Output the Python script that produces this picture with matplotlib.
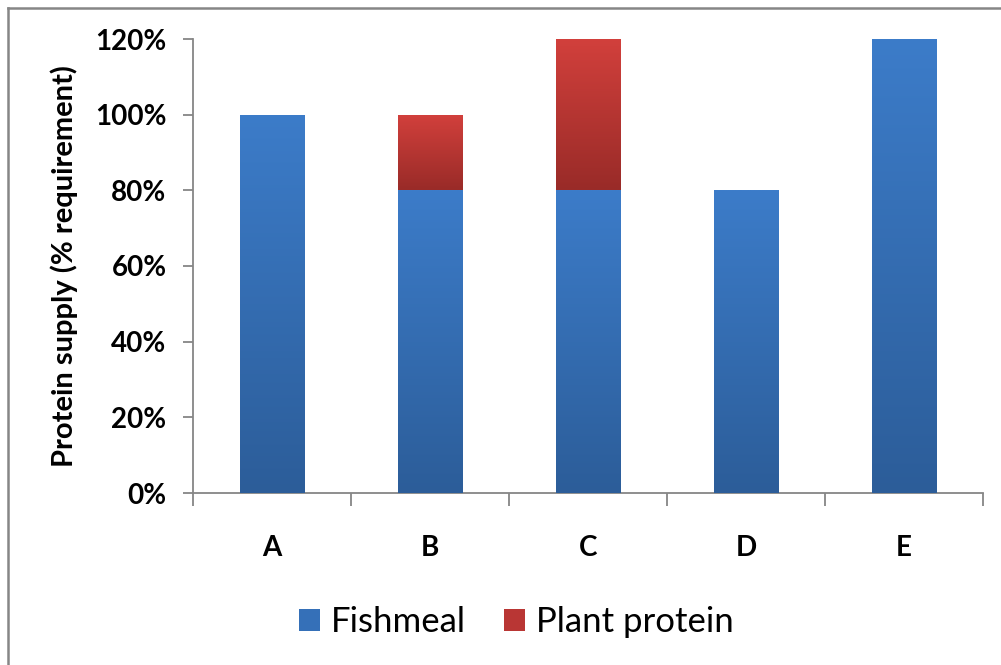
import numpy as np
import matplotlib
matplotlib.use("Agg")
import matplotlib.pyplot as plt
import matplotlib.ticker as ticker
from matplotlib.colors import LinearSegmentedColormap
from matplotlib.patches import Patch
from matplotlib.lines import Line2D

categorias = ["A", "B", "C", "D", "E"]
fishmeal = [1.00, 0.80, 0.80, 0.80, 1.20]
plant_protein = [0.00, 0.20, 0.40, 0.00, 0.00]
yticks = [0, 0.2, 0.4, 0.6, 0.8, 1.0, 1.2]

AZUL = ("#3c7cc9", "#2c5d99")
VERMELHO = ("#d2403c", "#992b28")
CINZA = "#868686"

plt.rcParams["font.family"] = ["Lato", "DejaVu Sans"]

fig = plt.figure(figsize=(10.01, 6.65), dpi=100)
ax = fig.add_axes([193 / 1001, 1 - 493 / 665, 790 / 1001, 454 / 665])

x = np.arange(len(categorias))
largura = 0.41


def barra_gradiente(ax, bars, cores):
    cmap = LinearSegmentedColormap.from_list("g", [cores[1], cores[0]])
    grad = np.linspace(0, 1, 256).reshape(-1, 1)
    for b in bars:
        if b.get_height() <= 0:
            continue
        x0, y0 = b.get_x(), b.get_y()
        x1, y1 = x0 + b.get_width(), y0 + b.get_height()
        im = ax.imshow(grad, cmap=cmap, aspect="auto", origin="lower",
                       extent=(x0, x1, y0, y1), zorder=3)
        im.set_clip_path(b)


b1 = ax.bar(x, fishmeal, largura, color=AZUL[0], zorder=2, linewidth=0)
b2 = ax.bar(x, plant_protein, largura, bottom=fishmeal, color=VERMELHO[0],
            zorder=2, linewidth=0)
barra_gradiente(ax, b1, AZUL)
barra_gradiente(ax, b2, VERMELHO)

ax.set_xlim(-0.5, len(categorias) - 0.5)
ax.set_ylim(0, 1.2)
ax.set_yticks(yticks)
ax.yaxis.set_major_formatter(ticker.FuncFormatter(lambda v, _: f"{v * 100:.0f}%"))
ax.set_xticks(x)
ax.set_xticklabels(categorias)
ax.set_xticks(np.arange(-0.5, len(categorias)), minor=True)

for s in ["top", "right"]:
    ax.spines[s].set_visible(False)
for s in ["left", "bottom"]:
    ax.spines[s].set_color(CINZA)
    ax.spines[s].set_linewidth(1.3)

ax.tick_params(axis="y", length=7, width=1.3, color=CINZA, labelsize=20, pad=12)
ax.tick_params(axis="x", which="major", length=0, labelsize=20, pad=30)
ax.tick_params(axis="x", which="minor", length=9, width=1.3, color=CINZA)
for lab in ax.get_xticklabels() + ax.get_yticklabels():
    lab.set_fontweight("bold")

ax.set_ylabel("Protein supply (% requirement)", fontsize=21, fontweight="bold",
              labelpad=12)

handles = [Patch(facecolor="#3570b8", label="Fishmeal"),
           Patch(facecolor="#b93634", label="Plant protein")]
fig.legend(handles=handles, loc="center", bbox_to_anchor=(0.516, 0.065),
           ncol=2, frameon=False, fontsize=25, handlelength=0.6,
           handleheight=0.6, handletextpad=0.32, columnspacing=1.1)

# moldura do grafico
fig.add_artist(Line2D([8 / 1001, 8 / 1001], [0, 1 - 8 / 665], color=CINZA,
                      linewidth=1.8, transform=fig.transFigure))
fig.add_artist(Line2D([8 / 1001, 1], [1 - 8 / 665, 1 - 8 / 665], color=CINZA,
                      linewidth=1.8, transform=fig.transFigure))

fig.savefig("out.png", dpi=100)
